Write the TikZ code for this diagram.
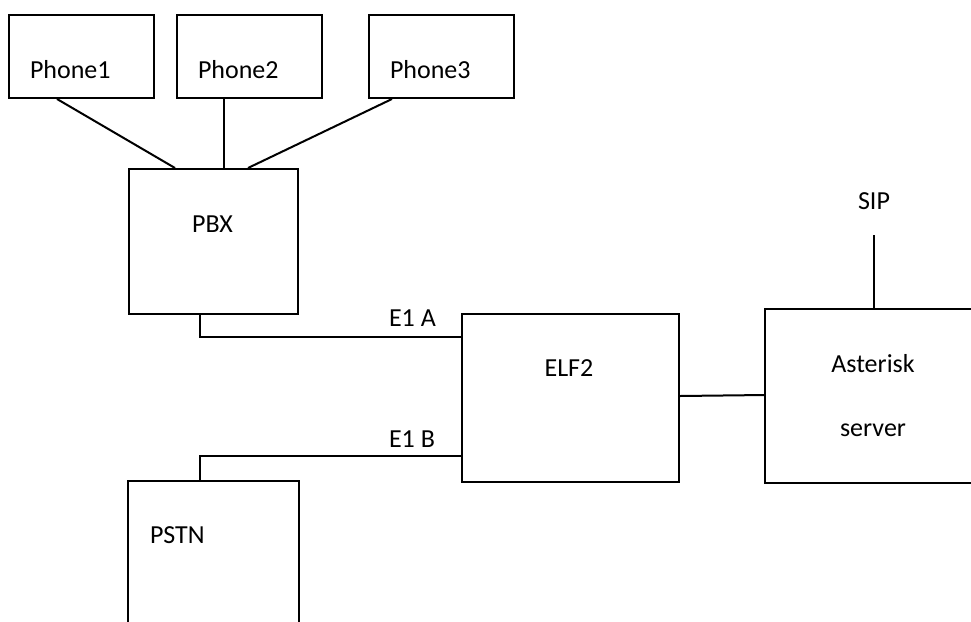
\documentclass[tikz,border=0pt]{standalone}
\usepackage{fontspec}
\setmainfont{Carlito}
\usetikzlibrary{calc}
\begin{document}
\begin{tikzpicture}[x=1pt,y=-1pt,line width=2pt,
  box/.style={draw,rectangle,inner sep=0pt,anchor=north west},
  openbox/.style={rectangle,inner sep=0pt,anchor=north west},
  txt/.style={inner sep=0pt,font=\fontsize{26}{31}\selectfont},
  link/.style={draw,line width=2pt}]
\useasboundingbox (0,0) rectangle (971,621);
% boxes
\node[box,minimum width=145pt,minimum height=83pt] (p1) at (8,14) {};
\node[box,minimum width=145pt,minimum height=83pt] (p2) at (176,14) {};
\node[box,minimum width=145pt,minimum height=83pt] (p3) at (368,14) {};
\node[box,minimum width=169pt,minimum height=145pt] (pbx) at (128,168) {};
\node[box,minimum width=217pt,minimum height=168pt] (elf) at (461,313) {};
\node[openbox,minimum width=169pt,minimum height=142pt] (pstn) at (128,481) {};
\draw (pstn.south west) |- (pstn.north east) -- (pstn.south east);
\node[openbox,minimum width=212pt,minimum height=172pt] (ast) at (765,309) {};
\draw (ast.north east) -| (ast.south west) -- (ast.south east);
% texts
\node[txt,anchor=base west] (t1) at (29,78) {Phone1};
\node[txt,anchor=base west] (t2) at (197,78) {Phone2};
\node[txt,anchor=base west] (t3) at (389,78) {Phone3};
\node[txt,anchor=base] (tpbx) at (212.5,232) {PBX};
\node[txt,anchor=base west] (te1a) at (388,326) {E1 A};
\node[txt,anchor=base west] (te1b) at (388,447) {E1 B};
\node[txt,anchor=base west] (tpstn) at (149,543) {PSTN};
\node[txt,anchor=base] (telf) at (569,376) {ELF2};
\node[txt,anchor=base] (tast) at (873,372) {Asterisk};
\node[txt,anchor=base] (tsrv) at (873,436) {server};
\node[txt,anchor=base] (tsip) at (874,209) {SIP};
\coordinate (sipend) at (874,235);
% connectors
\draw[link] ($(p1.south west)+(49,0)$) -- ($(pbx.north west)+(47,0)$);
\draw[link] ($(p2.south west)+(48,0)$) -- ($(pbx.north west)+(96,0)$);
\draw[link] ($(p3.south west)+(24,0)$) -- ($(pbx.north west)+(120,0)$);
\draw[link] ($(pbx.south west)+(72,0)$) |- ($(elf.north west)+(0,24)$);
\draw[link] ($(pstn.north west)+(72,0)$) |- ($(elf.north west)+(0,143)$);
\draw[link] ($(elf.north east)+(0,83)$) -- ($(ast.north west)+(0,86)$);
\draw[link] (sipend) -- ($(ast.north west)+(109,0)$);
\end{tikzpicture}
\end{document}
